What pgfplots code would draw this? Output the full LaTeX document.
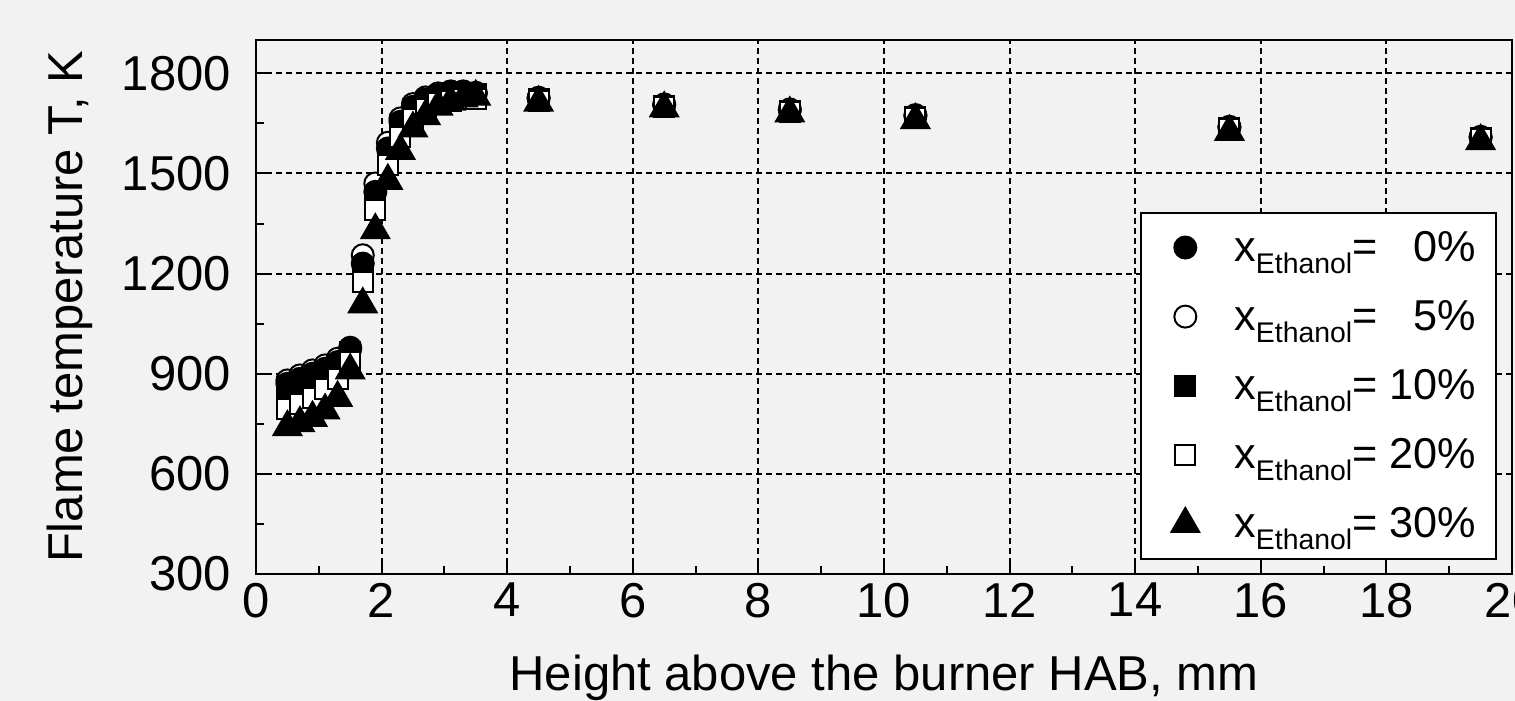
\documentclass[border=0pt]{standalone}
\usepackage{pgfplots}
\pgfplotsset{compat=1.18}
\usepackage{fontspec}
\setmainfont{Liberation Sans}
\definecolor{bg}{HTML}{F2F2F2}
\newcommand\bigf{\fontsize{24.5pt}{28pt}\selectfont}
\newcommand\legf{\fontsize{21.6pt}{24pt}\selectfont}
\newcommand\xeth{x\raisebox{-6pt}{\fontsize{14.2pt}{14pt}\selectfont Ethanol}}

% HAB [mm], T [K] for x_Ethanol = 0, 5, 10, 20, 30 %
\pgfplotstableread{
hab   e0    e5    e10   e20   e30
0.5   870   880   860   795   740
0.7   885   895   872   808   752
0.9   900   910   888   828   768
1.1   915   925   905   855   790
1.3   935   945   925   885   828
1.5   975   978   965   935   910
1.7   1230  1255  1215  1175  1108
1.9   1445  1470  1425  1392  1330
2.1   1575  1592  1560  1525  1478
2.3   1655  1665  1642  1610  1568
2.5   1700  1708  1692  1662  1635
2.7   1722  1728  1715  1692  1672
2.9   1735  1740  1730  1710  1700
3.1   1743  1746  1738  1718  1715
3.3   1744  1746  1740  1722  1725
3.5   1740  1742  1738  1722  1730
4.5   1725  1727  1722  1718  1712
6.5   1705  1707  1702  1700  1695
8.5   1690  1692  1688  1685  1680
10.5  1672  1675  1670  1665  1660
15.5  1638  1640  1635  1632  1625
19.5  1608  1610  1605  1602  1597
}\flame

\begin{document}
\begin{tikzpicture}
\fill[bg] (-128pt,-63.5pt) rectangle (629.5pt,287pt);
\begin{axis}[
  at={(0,0)}, anchor=south west,
  scale only axis, width=628pt, height=267pt,
  xmin=0, xmax=20, ymin=300, ymax=1900,
  xtick={0,2,...,20}, ytick={300,600,...,1800},
  minor x tick num=1, minor y tick num=1,
  tick pos=left, tick align=inside,
  major tick length=6pt, minor tick length=4pt,
  every tick/.style={black, line width=1pt},
  axis line style={line width=1.2pt},
  axis background/.style={fill=bg},
  grid=major,
  major grid style={black, line width=1pt, dash pattern=on 3pt off 2pt},
  /pgf/number format/assume math mode=true,
  /pgf/number format/1000 sep={},
  ticklabel style={font=\bigf},
  xticklabel style={yshift=-1pt},
  yticklabel style={xshift=-9pt},
  label style={font=\bigf},
  xlabel={Height above the burner HAB, mm},
  ylabel={Flame temperature T, K},
  xlabel style={yshift=-12pt},
  ylabel style={yshift=8pt},
  legend style={at={(rel axis cs:0.988,0.678)}, anchor=north east,
    fill=white, draw=black, line width=1pt, font=\legf,
    row sep=14pt, inner xsep=8pt, inner ysep=7pt},
  legend cell align=left,
  legend image code/.code={%
    \pgfpathmoveto{\pgfpoint{0pt}{0pt}}\pgfpathlineto{\pgfpoint{36.5pt}{0pt}}\pgfusepath{}%
    \draw[#1] plot coordinates {(14pt,0pt)};},
  every axis plot/.append style={only marks, line width=1pt},
]
\addlegendimage{only marks, mark=*, mark size=5.5pt, black, fill=black}
\addlegendentry{\xeth= \phantom{1}0\%}
\addlegendimage{only marks, mark=*, mark size=5.5pt, black, fill=white}
\addlegendentry{\xeth= \phantom{1}5\%}
\addlegendimage{only marks, mark=square*, mark size=5pt, black, fill=black}
\addlegendentry{\xeth= 10\%}
\addlegendimage{only marks, mark=square*, mark size=5pt, black, fill=white}
\addlegendentry{\xeth= 20\%}
\addlegendimage{only marks, mark=triangle*, mark size=8pt, black, fill=black}
\addlegendentry{\xeth= 30\%}

\addplot[forget plot, mark=*, mark size=5.5pt, black, fill=white] table[x=hab, y=e5] {\flame};
\addplot[forget plot, mark=*, mark size=5.5pt, black, fill=black] table[x=hab, y=e0] {\flame};
\addplot[forget plot, mark=square*, mark size=5pt, black, fill=black] table[x=hab, y=e10] {\flame};
\addplot[forget plot, mark=square*, mark size=5pt, black, fill=white] table[x=hab, y=e20] {\flame};
\addplot[forget plot, mark=triangle*, mark size=8pt, black, fill=black] table[x=hab, y=e30] {\flame};
\end{axis}
\pgfresetboundingbox
\path (-128pt,-63.5pt) rectangle (629.5pt,287pt);
\end{tikzpicture}
\end{document}
